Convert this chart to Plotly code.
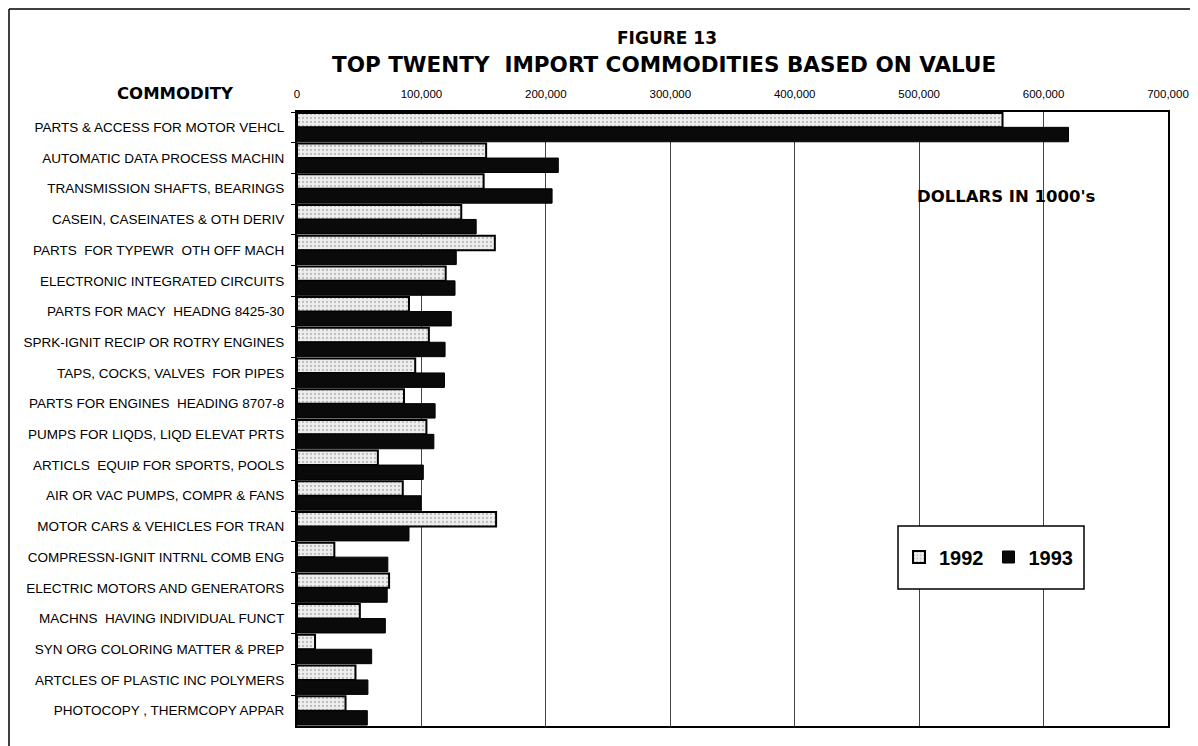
import plotly.graph_objects as go

commodities = [
    "PARTS & ACCESS FOR MOTOR VEHCL",
    "AUTOMATIC DATA PROCESS MACHIN",
    "TRANSMISSION SHAFTS, BEARINGS",
    "CASEIN, CASEINATES & OTH DERIV",
    "PARTS  FOR TYPEWR  OTH OFF MACH",
    "ELECTRONIC INTEGRATED CIRCUITS",
    "PARTS FOR MACY  HEADNG 8425-30",
    "SPRK-IGNIT RECIP OR ROTRY ENGINES",
    "TAPS, COCKS, VALVES  FOR PIPES",
    "PARTS FOR ENGINES  HEADING 8707-8",
    "PUMPS FOR LIQDS, LIQD ELEVAT PRTS",
    "ARTICLS  EQUIP FOR SPORTS, POOLS",
    "AIR OR VAC PUMPS, COMPR & FANS",
    "MOTOR CARS & VEHICLES FOR TRAN",
    "COMPRESSN-IGNIT INTRNL COMB ENG",
    "ELECTRIC MOTORS AND GENERATORS",
    "MACHNS  HAVING INDIVIDUAL FUNCT",
    "SYN ORG COLORING MATTER & PREP",
    "ARTCLES OF PLASTIC INC POLYMERS",
    "PHOTOCOPY , THERMCOPY APPAR",
]

values_1992 = [567000, 152000, 150000, 132000, 159000, 119500, 90000, 106000, 95000, 86000,
               104000, 65000, 85000, 160000, 30000, 74000, 50500, 14500, 47000, 39000]
values_1993 = [620000, 210000, 205000, 144000, 128000, 127000, 124000, 119000, 118500, 111000,
               110000, 101500, 99700, 90000, 73000, 72500, 71000, 60000, 57000, 56500]

x_ticks = [0, 100000, 200000, 300000, 400000, 500000, 600000, 700000]
x_ticklabels = ["0", "100,000", "200,000", "300,000", "400,000", "500,000", "600,000", "700,000"]

FONT = "Liberation Sans, Arial, Helvetica, sans-serif"
BOLD = "DejaVu Sans, Liberation Sans, Arial, sans-serif"
labels = [c.replace("  ", "\u00a0 ") for c in commodities]

# page body has an 8px margin; screen coords below are converted to figure coords
W, H = 1190, 738
L, T, R, B = 289, 104, 30, 20
PW, PH = W - L - R, H - T - B


def px(xs):
    return (xs - 8 - L) / PW


def py(ys):
    return (H - B - (ys - 8)) / PH


fig = go.Figure()
fig.add_trace(go.Bar(
    y=labels, x=values_1992, orientation="h", name="1992",
    marker=dict(
        color="#e4e4e4",
        line=dict(color="#000000", width=2),
        pattern=dict(shape=".", fgcolor="#8a8a8a", bgcolor="#eeeeee", size=4, solidity=0.25),
    ),
))
fig.add_trace(go.Bar(
    y=labels, x=values_1993, orientation="h", name="1993",
    marker=dict(color="#0a0a0a", line=dict(color="#000000", width=1)),
))

fig.update_layout(
    width=W, height=H,
    margin=dict(l=L, r=R, t=T, b=B, autoexpand=False),
    paper_bgcolor="white", plot_bgcolor="white",
    barmode="group", bargap=0.06, bargroupgap=0.0,
    font=dict(family=FONT, color="#000000"),
    showlegend=True,
    legend=dict(
        orientation="h", x=px(899), y=py(557), xanchor="left", yanchor="middle",
        bgcolor="rgba(0,0,0,0)", borderwidth=0,
        font=dict(family=FONT, size=20, weight="bold"),
        itemwidth=30,
    ),
)

fig.update_xaxes(
    side="top", range=[0, 700000],
    tickvals=x_ticks, ticktext=x_ticklabels,
    tickfont=dict(family=FONT, size=11.5),
    ticklabelstandoff=8,
    showgrid=True, gridcolor="#444444", gridwidth=1,
    showline=True, linecolor="#000000", linewidth=1.5, mirror=True,
    ticks="", zeroline=False,
)
fig.update_yaxes(
    autorange="reversed",
    tickfont=dict(family=FONT, size=13.5),
    showline=True, linecolor="#000000", linewidth=2, mirror=True,
    ticks="outside", ticklen=4, tickcolor="#000000", tickson="boundaries",
    ticklabelstandoff=8,
    showgrid=False,
)

# Titles and notes
fig.add_annotation(text="FIGURE 13", xref="paper", yref="paper", x=px(667), y=py(38),
                   xanchor="center", yanchor="middle", showarrow=False,
                   font=dict(family=BOLD, size=17, weight="bold"))
fig.add_annotation(text="TOP TWENTY\u00a0 IMPORT COMMODITIES BASED ON VALUE", xref="paper", yref="paper",
                   x=px(664), y=py(65), xanchor="center", yanchor="middle", showarrow=False,
                   font=dict(family=BOLD, size=21.5, weight="bold"))
fig.add_annotation(text="COMMODITY", xref="paper", yref="paper", x=px(175), y=py(93),
                   xanchor="center", yanchor="middle", showarrow=False,
                   font=dict(family=BOLD, size=16.5, weight="bold"))
fig.add_annotation(text="DOLLARS IN 1000's", xref="paper", yref="paper", x=px(1006), y=py(197),
                   xanchor="center", yanchor="middle", showarrow=False,
                   font=dict(family=BOLD, size=16.5, weight="bold"))

# Legend box
fig.add_shape(type="rect", xref="paper", yref="paper",
              x0=px(898), x1=px(1084), y0=py(589), y1=py(526),
              line=dict(color="#000000", width=1.5), fillcolor="white", layer="above")
# Outer frame (top and left edges visible in the scan)
fig.add_shape(type="line", xref="paper", yref="paper",
              x0=px(9), x1=px(1200), y0=py(9), y1=py(9),
              line=dict(color="#000000", width=1.5))
fig.add_shape(type="line", xref="paper", yref="paper",
              x0=px(9), x1=px(9), y0=py(9), y1=py(748),
              line=dict(color="#000000", width=1.5))

fig.write_html("out.html")
